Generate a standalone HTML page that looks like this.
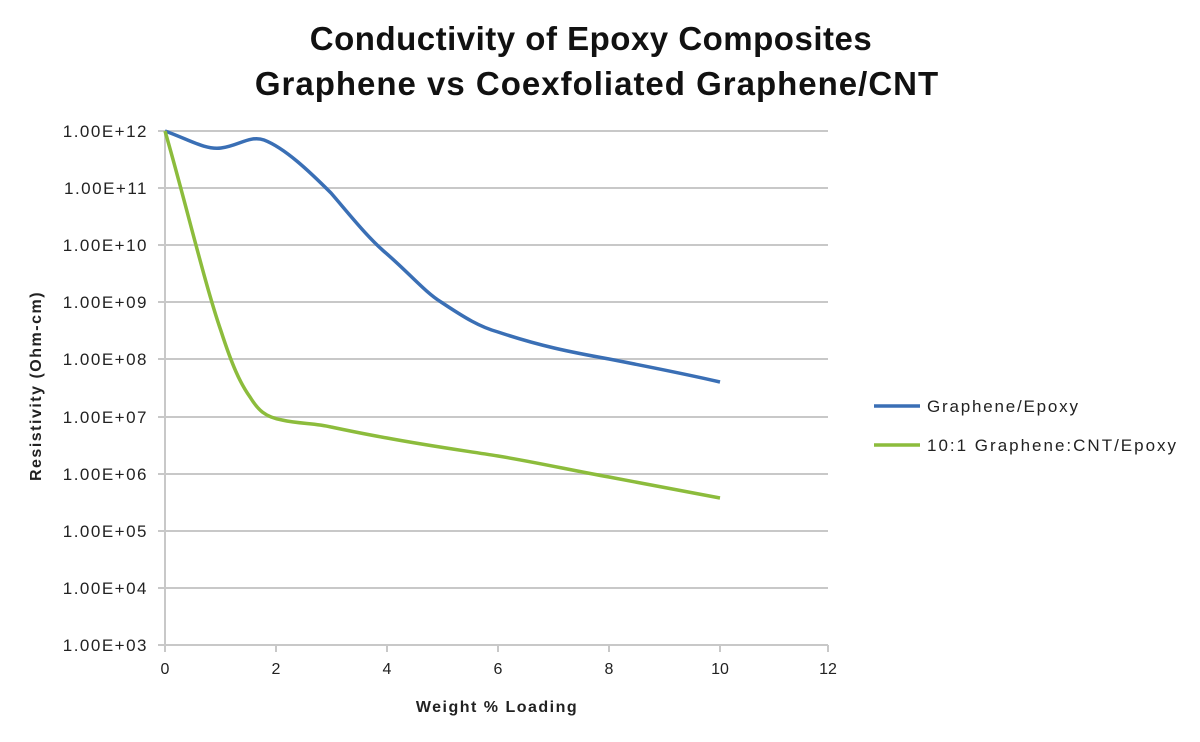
<!DOCTYPE html>
<html><head><style>body{margin:0;background:#fff}svg text{font-family:"Liberation Sans",sans-serif}</style></head><body>
<svg width="1200" height="737" xmlns="http://www.w3.org/2000/svg">
<text x="591" y="50" font-size="33" font-weight="bold" text-anchor="middle" fill="#111" letter-spacing="0.5">Conductivity of Epoxy Composites</text>
<text x="597" y="95" font-size="33" font-weight="bold" text-anchor="middle" fill="#111" letter-spacing="1">Graphene vs Coexfoliated Graphene/CNT</text>
<g stroke="#c8c8c8" stroke-width="2">
<line x1="158" y1="131" x2="828" y2="131"/><line x1="158" y1="188" x2="828" y2="188"/><line x1="158" y1="245" x2="828" y2="245"/><line x1="158" y1="302" x2="828" y2="302"/><line x1="158" y1="359" x2="828" y2="359"/><line x1="158" y1="417" x2="828" y2="417"/><line x1="158" y1="474" x2="828" y2="474"/><line x1="158" y1="531" x2="828" y2="531"/><line x1="158" y1="588" x2="828" y2="588"/><line x1="158" y1="645" x2="828" y2="645"/>
<line x1="165" y1="131" x2="165" y2="652"/>
<line x1="276" y1="645" x2="276" y2="652"/><line x1="387" y1="645" x2="387" y2="652"/><line x1="498" y1="645" x2="498" y2="652"/><line x1="609" y1="645" x2="609" y2="652"/><line x1="720" y1="645" x2="720" y2="652"/><line x1="828" y1="645" x2="828" y2="652"/>
</g>
<g font-size="17" fill="#222" text-anchor="end" letter-spacing="1.5">
<text x="148" y="137">1.00E+12</text><text x="148" y="194">1.00E+11</text><text x="148" y="251">1.00E+10</text><text x="148" y="308">1.00E+09</text><text x="148" y="365">1.00E+08</text><text x="148" y="423">1.00E+07</text><text x="148" y="480">1.00E+06</text><text x="148" y="537">1.00E+05</text><text x="148" y="594">1.00E+04</text><text x="148" y="651">1.00E+03</text>
</g>
<g font-size="16" fill="#222" text-anchor="middle">
<text x="165" y="674">0</text><text x="276" y="674">2</text><text x="387" y="674">4</text><text x="498" y="674">6</text><text x="609" y="674">8</text><text x="720" y="674">10</text><text x="828" y="674">12</text>
</g>
<text x="497" y="712" font-size="16" font-weight="bold" text-anchor="middle" fill="#222" letter-spacing="1.5">Weight % Loading</text>
<text transform="translate(41,386) rotate(-90)" font-size="16" font-weight="bold" text-anchor="middle" fill="#222" letter-spacing="1.5">Resistivity (Ohm-cm)</text>
<path d="M165,131 C190,140 205,150 221,148 C238,146 250,135 264,140 C285,148 310,172 331,193 C350,215 368,238 387,254 C410,274 425,292 441,302 C465,318 480,327 498,332 C540,346 570,352 609,359 C650,367 690,375 720,382" fill="none" stroke="#3a6fb5" stroke-width="3.5"/>
<path d="M165,131 C185,200 205,285 221,331 C232,365 240,383 250,397 C258,410 265,417 282,420 C300,424 315,423 331,427 C350,431 370,435 387,438 C430,446 460,450 498,456 C540,463 570,470 609,477 C650,485 690,492 720,498" fill="none" stroke="#8cbc3c" stroke-width="3.5"/>
<line x1="874" y1="406" x2="920" y2="406" stroke="#3a6fb5" stroke-width="3.5"/>
<text x="927" y="412" font-size="17" fill="#222" letter-spacing="1.8">Graphene/Epoxy</text>
<line x1="874" y1="445" x2="920" y2="445" stroke="#8cbc3c" stroke-width="3.5"/>
<text x="927" y="451" font-size="17" fill="#222" letter-spacing="2">10:1 Graphene:CNT/Epoxy</text>
</svg>
</body></html>
